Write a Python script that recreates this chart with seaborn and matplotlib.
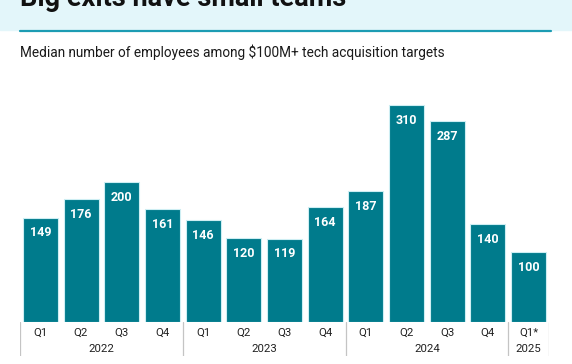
"""Median employees among $100M+ tech acquisition targets."""

import matplotlib

matplotlib.use("Agg")
import matplotlib.pyplot as plt
import pandas as pd
import seaborn as sns

quarters = ["Q1", "Q2", "Q3", "Q4", "Q1", "Q2", "Q3", "Q4", "Q1", "Q2", "Q3", "Q4", "Q1*"]
years = ["2022"] * 4 + ["2023"] * 4 + ["2024"] * 4 + ["2025"]
employees = [149, 176, 200, 161, 146, 120, 119, 164, 187, 310, 287, 140, 100]

BAR = "#007b8c"
BAND = "#e3f6fa"
RULE = "#1c9cb3"
SEP = "#c4c4c4"

W, H, DPI = 572, 364, 100

df = pd.DataFrame({
    "period": [f"{y} {q}" for y, q in zip(years, quarters)],
    "quarter": quarters,
    "year": years,
    "employees": employees,
})

sns.set_style("white")
plt.rcParams["font.family"] = ["Roboto", "DejaVu Sans"]

fig = plt.figure(figsize=(W / DPI, H / DPI), dpi=DPI)


def px(x0, y0, x1, y1):
    # pixel box (top-left origin) -> figure fraction rect
    return [x0 / W, 1 - y1 / H, (x1 - x0) / W, (y1 - y0) / H]


# header band, cut off at the top
fig.patches.append(plt.Rectangle((0, 1 - 30 / H), 1, 30 / H, transform=fig.transFigure,
                                 color=BAND, zorder=0))
fig.add_artist(plt.Line2D([20 / W, 551 / W], [1 - 30.5 / H] * 2, color=RULE, lw=1.6))
fig.text(20 / W, 1 - 6 / H, "Big exits have small teams", fontsize=19.5, fontweight="bold",
         color="#111111", va="baseline", ha="left")
fig.text(20 / W, 1 - 52 / H, "Median number of employees among $100M+ tech acquisition targets",
         fontsize=9.8, color="#1a1a1a", va="center", ha="left")

ax = fig.add_axes(px(20, 70, 549, 322))
sns.barplot(data=df, x="period", y="employees", order=df["period"], color=BAR,
            width=0.86, saturation=1, edgecolor="#cdeef3", linewidth=0.8, ax=ax)
ax.set_xlim(-0.5, len(df) - 0.5)
ax.set_ylim(0, 360)
ax.axis("off")

for i, v in enumerate(employees):
    ax.annotate(str(v), (i, v), xytext=(0, -11), textcoords="offset points",
                ha="center", va="center", color="white", fontsize=9, fontweight="bold")

# two-level category axis
axb = fig.add_axes(px(20, 322, 549, 356), sharex=ax)
axb.set_ylim(1, 0)
axb.axis("off")
for i, q in enumerate(quarters):
    axb.text(i, 0.32, q, ha="center", va="center", fontsize=8.2, color="#222222")

groups = []
for i, y in enumerate(years):
    if not groups or groups[-1][0] != y:
        groups.append([y, i, i])
    else:
        groups[-1][2] = i
for y, a, b in groups:
    axb.text((a + b) / 2, 0.78, y, ha="center", va="center", fontsize=8.2, color="#222222")
    axb.plot([a - 0.5, a - 0.5], [0, 1], color=SEP, lw=0.9)
axb.plot([len(df) - 0.5] * 2, [0, 1], color=SEP, lw=0.9)

fig.savefig("out.png", dpi=DPI)
